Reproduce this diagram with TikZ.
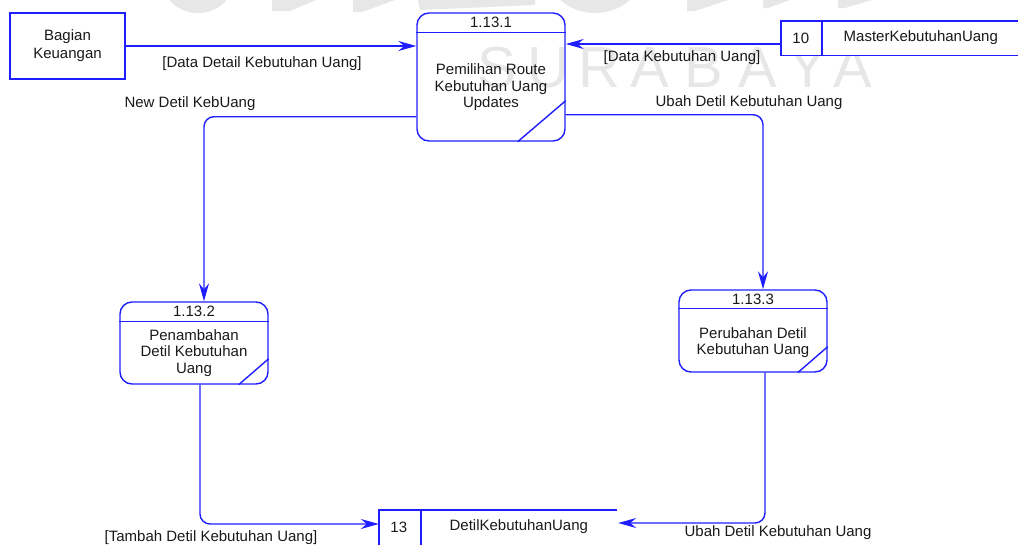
\documentclass[tikz,border=0pt]{standalone}
\usepackage{fontspec}
\setmainfont{Liberation Sans}
\usetikzlibrary{arrows.meta,calc}
\definecolor{flow}{RGB}{30,30,255}
\definecolor{ink}{RGB}{25,25,25}
\definecolor{wmgray}{RGB}{231,231,231}

\begin{document}
\begin{tikzpicture}[x=1pt,y=-1pt,
  every node/.style={font=\fontsize{15}{16.5}\selectfont, text=ink, inner sep=0pt},
  line/.style={draw=flow, line width=1.4pt},
  flowarrow/.style={line, -{Stealth[length=18pt,width=10pt,inset=6pt]}},
  entity/.style={line, rectangle, minimum width=115pt, minimum height=66pt,
    align=center, font=\fontsize{15}{18}\selectfont},
  proc/.style={line, rectangle, rounded corners=12pt, minimum width=148pt},
  txt/.style={align=center},
  storebox/.style={rectangle, minimum height=34pt},
  wm/.style={font=\fontsize{58}{58}\selectfont, text=wmgray, anchor=base},
]
\useasboundingbox (0,0) rectangle (1020,544);

% faint background lettering
\fill[wmgray] (198,-20) ellipse (36 and 33);
\fill[wmgray] (595,-25) ellipse (46 and 38);
\fill[wmgray] (272,0) -- (316,0) -- (290,11) -- (272,11) -- cycle;
\fill[wmgray] (353,0) -- (395,0) -- (362,12) -- (353,12) -- cycle;
\fill[wmgray] (418,0) -- (535,0) -- (535,5) -- (420,10) -- cycle;
\fill[wmgray] (687,0) -- (728,0) -- (695,11) -- (687,11) -- cycle;
\fill[wmgray] (763,0) -- (790,0) -- (768,8) -- (763,8) -- cycle;
\fill[wmgray] (838,0) -- (872,0) -- (845,8) -- (838,8) -- cycle;
\foreach \ch/\xx in {S/497,U/548,R/599,A/650,B/704,A/758,Y/808,A/853}
  \node[wm] (wm-\xx) at (\xx,87) {\ch};

% external entity
\node[entity] (bk) at (67.5,46) {Bagian\\Keuangan};

% process 1.13.1
\node[proc, minimum height=128pt] (p1) at (491,77) {};
\node (p1id) at ($(p1.north)+(0,10)$) {1.13.1};
\draw[line] ($(p1.north west)+(0,20)$) -- ($(p1.north east)+(0,20)$);
\node[txt] (p1txt) at ($(p1.center)+(0,10.5)$) {Pemilihan Route\\Kebutuhan Uang\\Updates};
\draw[line] ($(p1.south east)+(-48,0)$) -- ($(p1.south east)+(0,-41)$);

% process 1.13.2
\node[proc, minimum height=82pt] (p2) at (194,343) {};
\node (p2id) at ($(p2.north)+(0,10)$) {1.13.2};
\draw[line] ($(p2.north west)+(0,20)$) -- ($(p2.north east)+(0,20)$);
\node[txt] (p2txt) at ($(p2.center)+(0,10)$) {Penambahan\\Detil Kebutuhan\\Uang};
\draw[line] ($(p2.south east)+(-30,0)$) -- ($(p2.south east)+(0,-26)$);

% process 1.13.3
\node[proc, minimum height=82pt] (p3) at (753,331) {};
\node (p3id) at ($(p3.north)+(0,10)$) {1.13.3};
\draw[line] ($(p3.north west)+(0,19)$) -- ($(p3.north east)+(0,19)$);
\node[txt] (p3txt) at ($(p3.center)+(0,11.5)$) {Perubahan Detil\\Kebutuhan Uang};
\draw[line] ($(p3.south east)+(-30,0)$) -- ($(p3.south east)+(0,-26)$);

% data store 10 (white ground)
\node[storebox, minimum width=237pt, fill=white] (s10) at (899.5,38) {};
\draw[line] (s10.north east) -- (s10.north west) -- (s10.south west) -- (s10.south east);
\draw[line] ($(s10.north west)+(41,0)$) -- ($(s10.south west)+(41,0)$);
\node (s10id) at ($(s10.west)+(20,0)$) {10};
\node (s10nm) at ($(s10.west)+(140,0)$) {MasterKebutuhanUang};

% data store 13
\node[storebox, minimum width=238pt, minimum height=36pt] (s13) at (498,528) {};
\draw[line] (s13.north east) -- (s13.north west) -- (s13.south west) -- (s13.south east);
\draw[line] ($(s13.north west)+(42,0)$) -- ($(s13.south west)+(42,0)$);
\node (s13id) at ($(s13.west)+(20,-1)$) {13};
\node (s13nm) at ($(s13.west)+(140,-1)$) {DetilKebutuhanUang};

% data flows
\draw[flowarrow] (bk.east) -- (bk.east -| p1.west);
\node (l1) at (262,64) {[Data Detail Kebutuhan Uang]};

\coordinate (s10out) at ($(s10.west)+(0,6)$);
\draw[flowarrow] (s10out) -- (s10out -| p1.east);
\node (l2) at (682,58) {[Data Kebutuhan Uang]};

\draw[flowarrow, rounded corners=10pt] ($(p1.south west)+(0,-25)$) -| ($(p2.north)+(10,0)$);
\node (l3) at (190,104) {New Detil KebUang};

\draw[flowarrow, rounded corners=10pt] ($(p1.south east)+(0,-27)$) -| ($(p3.north)+(10,0)$);
\node (l4) at (749,103) {Ubah Detil Kebutuhan Uang};

\draw[flowarrow, rounded corners=10pt] ($(p2.south)+(6,0)$) |- ($(s13.west)+(0,-4)$);
\node (l5) at (211,538) {[Tambah Detil Kebutuhan Uang]};

\draw[flowarrow, rounded corners=10pt] ($(p3.south)+(12,0)$) |- ($(s13.east)+(1,-5)$);
\node (l6) at (778,533) {Ubah Detil Kebutuhan Uang};
\end{tikzpicture}
\end{document}
